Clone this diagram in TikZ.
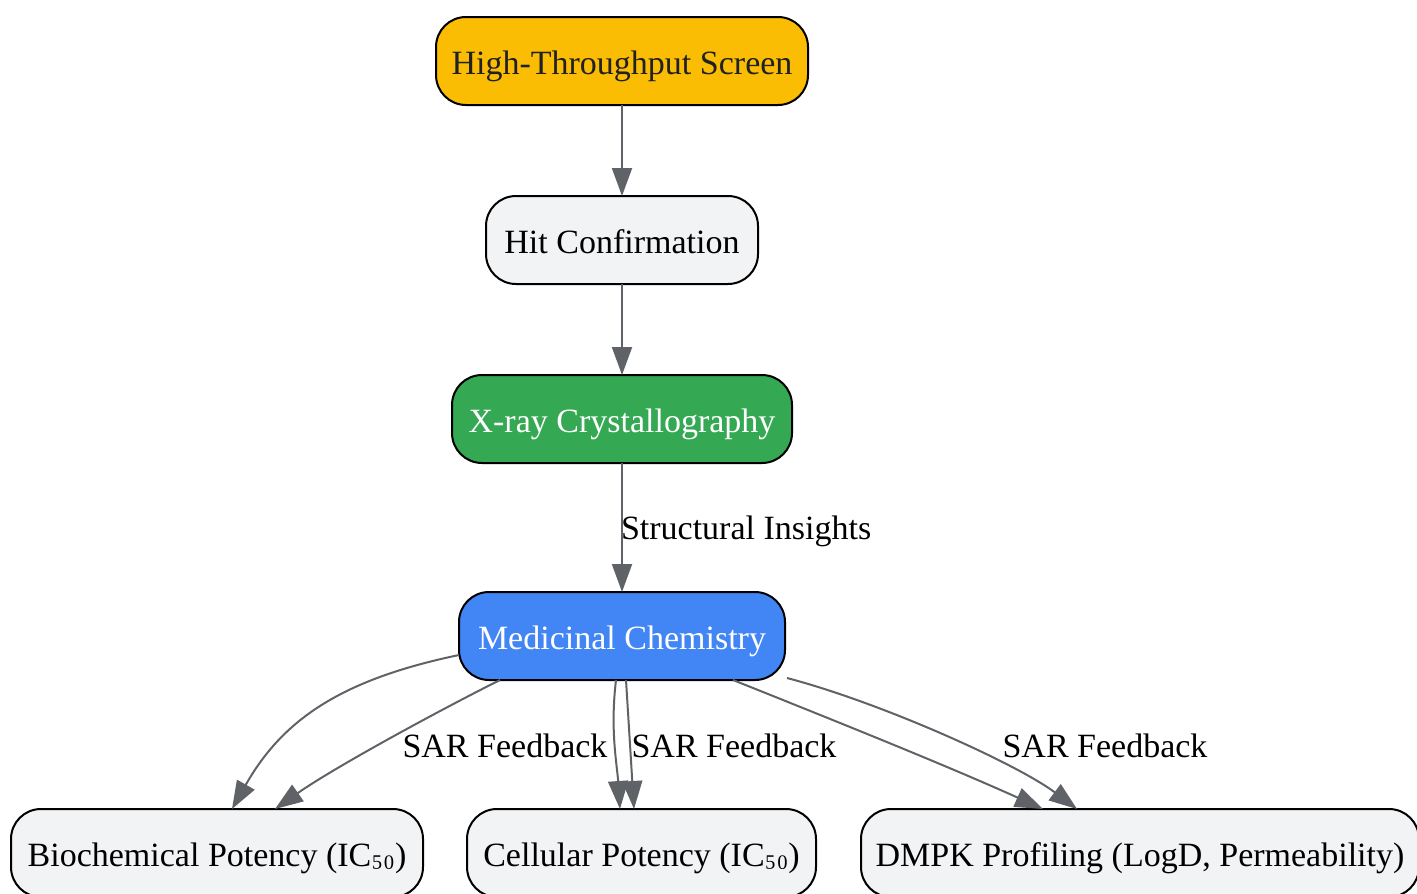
\documentclass[tikz,border=0pt]{standalone}
\usepackage{fontspec}
\setmainfont{Liberation Serif}
\usetikzlibrary{arrows.meta}
\definecolor{edgec}{HTML}{5F6368}
\definecolor{boxgray}{HTML}{F1F3F4}
\definecolor{htsy}{HTML}{FBBC04}
\definecolor{xgreen}{HTML}{34A853}
\definecolor{mblue}{HTML}{4285F4}
\definecolor{textdark}{HTML}{202124}
\newcommand{\subfifty}{\raisebox{3.5pt}{₅₀}}
\begin{document}
\begin{tikzpicture}[x=1pt,y=1pt,
  box/.style={draw=black, line width=2pt, rounded corners=30pt, minimum height=88pt,
    inner sep=0pt, outer sep=0pt, font=\fontsize{34}{40}\selectfont, fill=boxgray, text=black,
    text height=30pt, text depth=4pt},
  edge/.style={draw=edgec, line width=2pt, -{Triangle[length=28pt,width=20pt]}},
  lbl/.style={font=\fontsize{34}{40}\selectfont, inner sep=0pt, text=black}]
\useasboundingbox (0,0) rectangle (1417,-894);
\node[box, fill=htsy, text=textdark, minimum width=372pt] (hts) at (622,-61) {High-Throughput Screen};
\node[box, minimum width=272pt] (hit) at (622,-240) {Hit Confirmation};
\node[box, fill=xgreen, text=white, minimum width=340pt] (xray) at (622,-419) {X-ray Crystallography};
\node[box, fill=mblue, text=white, minimum width=326pt] (mc) at (622,-636) {Medicinal Chemistry};
\node[box, minimum width=412pt] (bio) at (217,-853) {Biochemical Potency (IC\subfifty)};
\node[box, minimum width=349pt] (cell) at (641.5,-853) {Cellular Potency (IC\subfifty)};
\node[box, minimum width=558pt] (dmpk) at (1140,-853) {DMPK Profiling (LogD, Permeability)};

\draw[edge] (hts) -- (hit);
\draw[edge] (hit) -- (xray);
\draw[edge] (xray) -- node[lbl, midway, anchor=west, xshift=-2pt, yshift=-4pt] (si) {Structural Insights} (mc);

% Biochemical
\draw[edge] ([yshift=-19pt]mc.west) .. controls +(-120,-25) and +(50,88) .. ([xshift=15pt]bio.north);
\draw[edge] ([xshift=-122pt]mc.south) .. controls +(-60,-30) and +(60,42) .. ([xshift=58pt]bio.north);
% Cellular
\draw[edge] ([xshift=-6pt]mc.south) .. controls +(-6,-50) and +(-3,45) .. ([xshift=-21.5pt]cell.north);
\draw[edge] ([xshift=4pt]mc.south) -- ([xshift=-7.5pt]cell.north);
% DMPK
\draw[edge] ([xshift=111pt]mc.south) .. controls +(100,-40) and +(-100,45) .. ([xshift=-97pt]dmpk.north);
\draw[edge] ([xshift=165pt,yshift=-42pt]mc.center) .. controls +(95,-25) and +(-60,45) .. ([xshift=-63pt]dmpk.north);

\node[lbl] (s1) at (505,-746) {SAR Feedback};
\node[lbl] (s2) at (734,-746) {SAR Feedback};
\node[lbl] (s3) at (1105,-746) {SAR Feedback};
\end{tikzpicture}
\end{document}
